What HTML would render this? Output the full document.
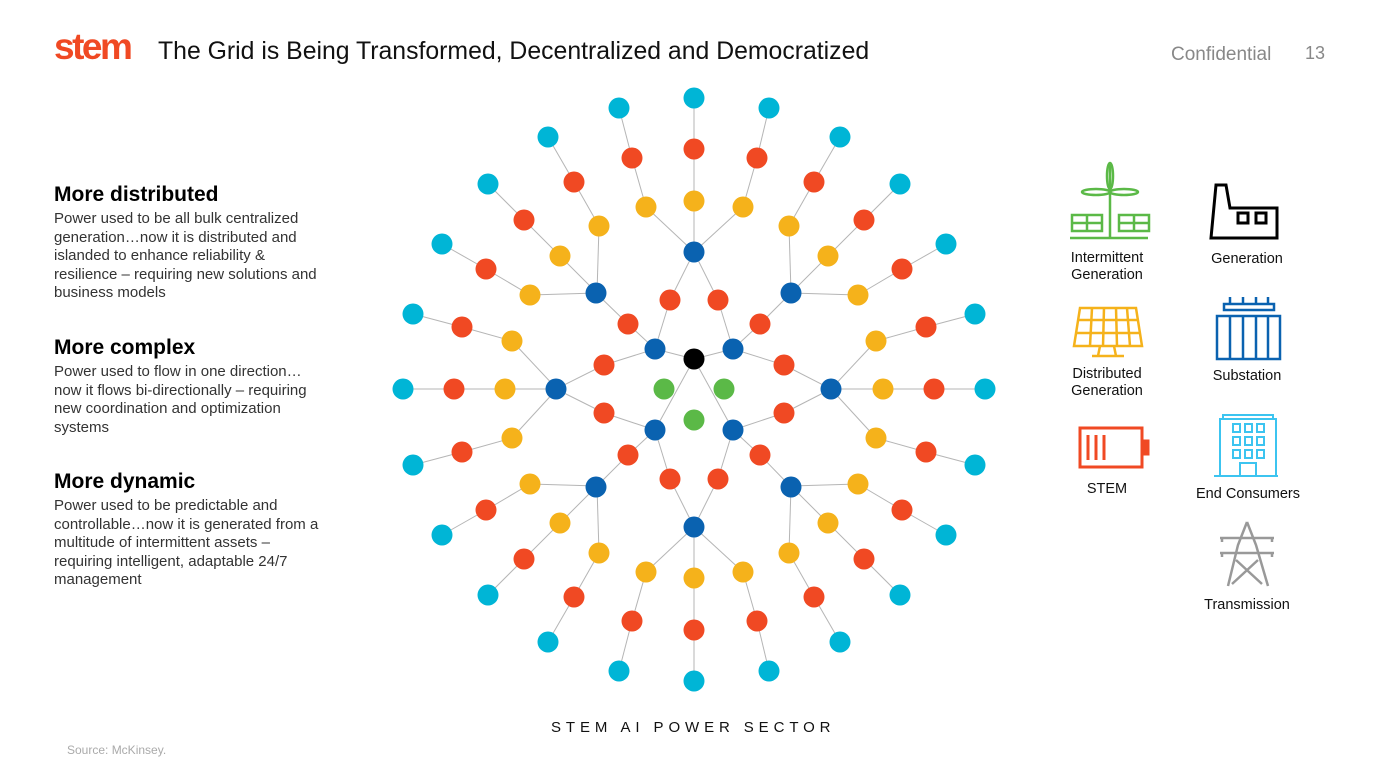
<!DOCTYPE html>
<html><head><meta charset="utf-8"><style>
body{margin:0;width:1388px;height:780px;background:#fff;font-family:"Liberation Sans",Arial,sans-serif;position:relative;overflow:hidden}
.a{position:absolute}
h2{position:absolute;margin:0;font-size:21px;font-weight:bold;color:#000}
p{position:absolute;margin:0;font-size:15px;line-height:18.6px;color:#333;width:275px}
.lbl{position:absolute;font-size:14.5px;color:#111;text-align:center;line-height:17px}
</style></head><body>
<div class="a" style="left:54px;top:26px;font-size:37px;font-weight:bold;color:#f04923;letter-spacing:-2.5px">stem</div>
<div class="a" style="left:158px;top:38px;font-size:24.8px;color:#111">The Grid is Being Transformed, Decentralized and Democratized</div>
<div class="a" style="left:1171px;top:44px;font-size:19px;color:#888">Confidential</div>
<div class="a" style="left:1305px;top:43px;font-size:18px;color:#888">13</div>
<h2 style="left:54px;top:183px">More distributed</h2>
<p style="left:54px;top:210px">Power used to be all bulk centralized generation…now it is distributed and islanded to enhance reliability &amp; resilience – requiring new solutions and business models</p>
<h2 style="left:54px;top:336px">More complex</h2>
<p style="left:54px;top:363px">Power used to flow in one direction… now it flows bi-directionally – requiring new coordination and optimization systems</p>
<h2 style="left:54px;top:470px">More dynamic</h2>
<p style="left:54px;top:497px">Power used to be predictable and controllable…now it is generated from a multitude of intermittent assets – requiring intelligent, adaptable 24/7 management</p>
<div class="a" style="left:551px;top:719px;font-size:15px;letter-spacing:4.9px;color:#111">STEM AI POWER SECTOR</div>
<div class="a" style="left:67px;top:743px;font-size:12px;color:#aaa">Source: McKinsey.</div>
<svg id="net" class="a" style="left:0;top:0" width="1388" height="780"></svg>
<svg class="a" style="left:0;top:0" width="1388" height="780" fill="none" stroke-width="2.5">
<g stroke="#5bb947"><line x1="1110" y1="163" x2="1110" y2="238"/><ellipse cx="1110" cy="176" rx="3" ry="13"/><ellipse cx="1096" cy="192" rx="14" ry="3"/><ellipse cx="1124" cy="192" rx="14" ry="3"/><rect x="1072" y="215" width="30" height="16"/><rect x="1119" y="215" width="30" height="16"/><line x1="1072" y1="223" x2="1102" y2="223"/><line x1="1119" y1="223" x2="1149" y2="223"/><line x1="1087" y1="215" x2="1087" y2="231"/><line x1="1134" y1="215" x2="1134" y2="231"/><line x1="1070" y1="238" x2="1148" y2="238"/></g>
<g stroke="#000" stroke-width="3"><path d="M1211 238 L1216 185 L1226 185 L1230 208 L1277 208 L1277 238 Z"/><rect x="1238" y="213" width="10" height="10"/><rect x="1256" y="213" width="10" height="10"/></g>
<g stroke="#f5b21b"><path d="M1080 308 L1136 308 L1142 346 L1074 346 Z"/><line x1="1078" y1="320" x2="1139" y2="320"/><line x1="1076" y1="333" x2="1141" y2="333"/><line x1="1092" y1="308" x2="1090" y2="346"/><line x1="1104" y1="308" x2="1103" y2="346"/><line x1="1116" y1="308" x2="1117" y2="346"/><line x1="1127" y1="308" x2="1130" y2="346"/><path d="M1100 346 L1098 356 M1114 346 L1116 356 M1092 356 L1124 356"/></g>
<g stroke="#0a62b0"><rect x="1217" y="316" width="63" height="43"/><rect x="1224" y="304" width="50" height="6"/><path d="M1230 304v-7M1243 304v-7M1256 304v-7M1268 304v-7M1230 316v43M1243 316v43M1256 316v43M1268 316v43"/></g>
<g stroke="#f04923" stroke-width="3"><rect x="1080" y="428" width="62" height="39"/><rect x="1145" y="441" width="3" height="13" fill="#f04923"/><path d="M1088 435v25M1096 435v25M1104 435v25"/></g>
<g stroke="#3cc4f0" stroke-width="2"><rect x="1223" y="415" width="50" height="4"/><rect x="1220" y="419" width="56" height="57"/><path d="M1214 476h64"/><rect x="1233" y="424" width="7" height="8"/><rect x="1245" y="424" width="7" height="8"/><rect x="1257" y="424" width="7" height="8"/><rect x="1233" y="437" width="7" height="8"/><rect x="1245" y="437" width="7" height="8"/><rect x="1257" y="437" width="7" height="8"/><rect x="1233" y="450" width="7" height="8"/><rect x="1245" y="450" width="7" height="8"/><rect x="1257" y="450" width="7" height="8"/><rect x="1240" y="463" width="16" height="13"/></g>
<g stroke="#999"><path d="M1247 522 L1238 545 L1228 586 M1247 522 L1256 545 L1268 586 M1220 538h54 M1220 553h54 M1222 538v4 M1272 538v4 M1222 553v4 M1272 553v4 M1236 560 L1262 584 M1258 560 L1232 584"/></g>
</svg>
<div class="lbl" style="left:1058px;top:250px;width:98px">Intermittent<br>Generation</div>
<div class="lbl" style="left:1197px;top:251px;width:100px">Generation</div>
<div class="lbl" style="left:1058px;top:366px;width:98px">Distributed<br>Generation</div>
<div class="lbl" style="left:1197px;top:368px;width:100px">Substation</div>
<div class="lbl" style="left:1058px;top:481px;width:98px">STEM</div>
<div class="lbl" style="left:1188px;top:486px;width:120px">End Consumers</div>
<div class="lbl" style="left:1197px;top:597px;width:100px">Transmission</div>
<script>
var C={c:"#00b5d6",r:"#f04923",y:"#f5b21b",b:"#0a62b0",g:"#5bb947",k:"#000"};
var nodes=[],edges=[];
function add(x,y,c){nodes.push([x,y,c]);return [x,y];}
var ob=[[694,252],[596,293],[791,293],[556,389],[831,389],[596,487],[791,487],[694,527]];
var br={"694,252":[[[646,207],[632,158],[619,108]],[[694,201],[694,149],[694,98]],[[743,207],[757,158],[769,108]]],
"791,293":[[[789,226],[814,182],[840,137]],[[828,256],[864,220],[900,184]],[[858,295],[902,269],[946,244]]],
"831,389":[[[876,341],[926,327],[975,314]],[[883,389],[934,389],[985,389]],[[876,438],[926,452],[975,465]]]};
function tf(p,mx,my){return [mx?1388-p[0]:p[0],my?779-p[1]:p[1]];}
var bases=[["694,252",0,0],["694,252",0,1],["791,293",0,0],["791,293",1,0],["791,293",0,1],["791,293",1,1],["831,389",0,0],["831,389",1,0]];
bases.forEach(function(b){var k=b[0].split(",").map(Number);var o=tf(k,b[1],b[2]);
br[b[0]].forEach(function(ch){var prev=o;ch.forEach(function(p,i){var q=tf(p,b[1],b[2]);edges.push([prev,q]);prev=q;add(q[0],q[1],["y","r","c"][i]);});});});
var ib=[[655,349],[733,349],[655,430],[733,430]];
var reds=[[[670,300],0,[694,252]],[[718,300],1,[694,252]],[[628,324],0,[596,293]],[[760,324],1,[791,293]],[[604,365],0,[556,389]],[[784,365],1,[831,389]],[[604,413],2,[556,389]],[[784,413],3,[831,389]],[[628,455],2,[596,487]],[[760,455],3,[791,487]],[[670,479],2,[694,527]],[[718,479],3,[694,527]]];
reds.forEach(function(r){edges.push([ib[r[1]],r[0]]);edges.push([r[0],r[2]]);add(r[0][0],r[0][1],"r");});
ib.forEach(function(p){edges.push([[694,359],p]);add(p[0],p[1],"b");});
ob.forEach(function(p){add(p[0],p[1],"b");});
add(694,359,"k");add(664,389,"g");add(724,389,"g");add(694,420,"g");
var s="";edges.forEach(function(e){s+='<line x1="'+e[0][0]+'" y1="'+e[0][1]+'" x2="'+e[1][0]+'" y2="'+e[1][1]+'" stroke="#b5b5b5" stroke-width="1"/>';});
nodes.forEach(function(n){s+='<circle cx="'+n[0]+'" cy="'+n[1]+'" r="10.5" fill="'+C[n[2]]+'"/>';});
document.getElementById("net").innerHTML=s;
</script>
</body></html>
